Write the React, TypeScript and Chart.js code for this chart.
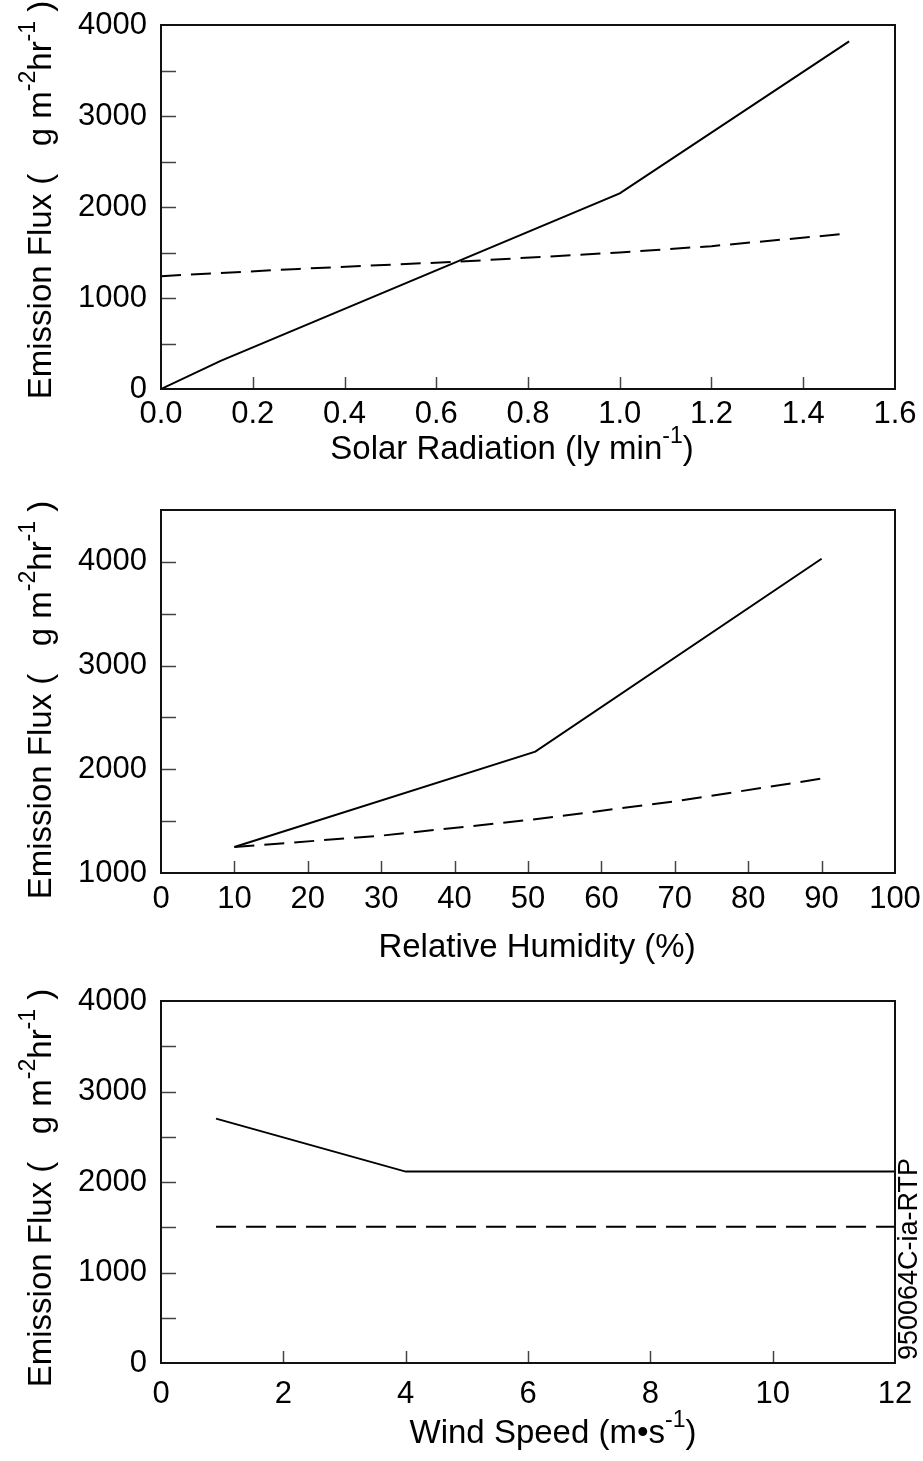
import React, { useEffect, useRef } from "react";
import { Chart, registerables } from "chart.js";
Chart.register(...registerables);

const FONT = '"Liberation Sans", Arial, Helvetica, sans-serif';

// ---------- Data ----------
// Panel 1: Solar radiation
const solarSolidX = [0, 0.13, 1.0, 1.5];
const solarSolidY = [0, 310, 2150, 3820];
const solarDashX = [0, 0.3, 0.65, 1.0, 1.2, 1.48];
const solarDashY = [1240, 1320, 1400, 1500, 1570, 1700];

// Panel 2: Relative humidity
const humSolidX = [10, 51, 90];
const humSolidY = [1250, 2170, 4030];
const humDashX = [10, 30, 50, 70, 90];
const humDashY = [1250, 1360, 1510, 1690, 1910];

// Panel 3: Wind speed
const windSolidX = [0.9, 4, 12];
const windSolidY = [2700, 2115, 2115];
const windDashX = [0.9, 12];
const windDashY = [1505, 1505];

type Seg = { t: string; sup?: boolean };

const yTitle: Seg[] = [
  { t: "Emission Flux (   g m" },
  { t: "-2", sup: true },
  { t: "hr" },
  { t: "-1", sup: true },
  { t: " )" },
];
const solarTitle: Seg[] = [{ t: "Solar Radiation (ly min" }, { t: "-1", sup: true }, { t: ")" }];
const humTitle: Seg[] = [{ t: "Relative Humidity (%)" }];
const windTitle: Seg[] = [{ t: "Wind Speed (m\u2022s" }, { t: "-1", sup: true }, { t: ")" }];
const figureId = "950064C-ia-RTP";

const MAIN_FONT = `33px ${FONT}`;
const SUP_FONT = `23px ${FONT}`;
const SUP_RAISE = 16;

function richWidth(ctx: CanvasRenderingContext2D, segs: Seg[]) {
  let w = 0;
  for (const s of segs) {
    ctx.font = s.sup ? SUP_FONT : MAIN_FONT;
    w += ctx.measureText(s.t).width;
  }
  return w;
}
function drawRich(ctx: CanvasRenderingContext2D, segs: Seg[], cx: number, baseY: number) {
  let x = cx - richWidth(ctx, segs) / 2;
  ctx.textAlign = "left";
  ctx.textBaseline = "alphabetic";
  for (const s of segs) {
    ctx.font = s.sup ? SUP_FONT : MAIN_FONT;
    ctx.fillText(s.t, x, s.sup ? baseY - SUP_RAISE : baseY);
    x += ctx.measureText(s.t).width;
  }
}

type PanelCfg = {
  top: number;
  height: number;
  padTop: number;
  xAxisH: number;
  xMin: number;
  xMax: number;
  xStep: number;
  xDecimals: number;
  yMin: number;
  yMax: number;
  xLabelPad: number;
  solid: [number[], number[]];
  dash: [number[], number[]];
  xTitle: Seg[];
  xTitleCx: number;
  xTitleBase: number;
  yTitleCy: number;
  sideNote?: boolean;
};

const panels: PanelCfg[] = [
  {
    top: 0, height: 485, padTop: 25, xAxisH: 96,
    xMin: 0, xMax: 1.6, xStep: 0.2, xDecimals: 1, yMin: 0, yMax: 4000, xLabelPad: 7,
    solid: [solarSolidX, solarSolidY], dash: [solarDashX, solarDashY],
    xTitle: solarTitle, xTitleCx: 512, xTitleBase: 459, yTitleCy: 200,
  },
  {
    top: 485, height: 490, padTop: 25, xAxisH: 102,
    xMin: 0, xMax: 100, xStep: 10, xDecimals: 0, yMin: 1000, yMax: 4500, xLabelPad: 8,
    solid: [humSolidX, humSolidY], dash: [humDashX, humDashY],
    xTitle: humTitle, xTitleCx: 537, xTitleBase: 472, yTitleCy: 215,
  },
  {
    top: 975, height: 486, padTop: 26, xAxisH: 98,
    xMin: 0, xMax: 12, xStep: 2, xDecimals: 0, yMin: 0, yMax: 4000, xLabelPad: 13,
    solid: [windSolidX, windSolidY], dash: [windDashX, windDashY],
    xTitle: windTitle, xTitleCx: 553, xTitleBase: 468, yTitleCy: 213, sideNote: true,
  },
];

function zeroPad(s: any) {
  s.paddingTop = 0;
  s.paddingBottom = 0;
  s.paddingLeft = 0;
  s.paddingRight = 0;
}

function Panel({ cfg }: { cfg: PanelCfg }) {
  const ref = useRef<HTMLCanvasElement>(null);
  useEffect(() => {
    if (!ref.current) return;
    const decor = {
      id: "decor",
      afterDraw(chart: any) {
        const ctx: CanvasRenderingContext2D = chart.ctx;
        const a = chart.chartArea;
        const xs = chart.scales.x;
        const ys = chart.scales.y;
        ctx.save();
        // inward ticks
        ctx.strokeStyle = "#444";
        ctx.lineWidth = 1.5;
        for (const t of xs.ticks) {
          if (t.value <= cfg.xMin + 1e-9 || t.value >= cfg.xMax - 1e-9) continue;
          const px = Math.round(xs.getPixelForValue(t.value)) + 0.5;
          ctx.beginPath();
          ctx.moveTo(px, a.bottom);
          ctx.lineTo(px, a.bottom - 12);
          ctx.stroke();
        }
        for (const t of ys.ticks) {
          if (t.value <= cfg.yMin + 1e-9 || t.value >= cfg.yMax - 1e-9) continue;
          const py = Math.round(ys.getPixelForValue(t.value)) + 0.5;
          ctx.beginPath();
          ctx.moveTo(a.left, py);
          ctx.lineTo(a.left + 15, py);
          ctx.stroke();
        }
        // frame
        ctx.strokeStyle = "#111";
        ctx.lineWidth = 2;
        ctx.strokeRect(a.left, a.top, a.right - a.left, a.bottom - a.top);
        // titles
        ctx.fillStyle = "#000";
        drawRich(ctx, cfg.xTitle, cfg.xTitleCx, cfg.xTitleBase);
        ctx.save();
        ctx.translate(51, cfg.yTitleCy);
        ctx.rotate(-Math.PI / 2);
        drawRich(ctx, yTitle, 0, 0);
        ctx.restore();
        if (cfg.sideNote) {
          ctx.save();
          ctx.translate(917, 385);
          ctx.rotate(-Math.PI / 2);
          ctx.font = `27px ${FONT}`;
          ctx.textAlign = "left";
          ctx.textBaseline = "alphabetic";
          ctx.fillText(figureId, 0, 0);
          ctx.restore();
        }
        ctx.restore();
      },
    };
    const mk = (xv: number[], yv: number[]) => xv.map((x, i) => ({ x, y: yv[i] }));
    const chart = new Chart(ref.current, {
      type: "line",
      data: {
        datasets: [
          {
            data: mk(cfg.solid[0], cfg.solid[1]),
            borderColor: "#000",
            borderWidth: 2,
            pointRadius: 0,
            tension: 0,
          },
          {
            data: mk(cfg.dash[0], cfg.dash[1]),
            borderColor: "#000",
            borderWidth: 2,
            borderDash: [20, 10],
            pointRadius: 0,
            tension: 0,
          },
        ],
      },
      options: {
        animation: false,
        responsive: false,
        devicePixelRatio: 1,
        layout: { autoPadding: false, padding: { top: cfg.padTop, right: 28, left: 0, bottom: 0 } },
        plugins: { legend: { display: false }, tooltip: { enabled: false } },
        scales: {
          x: {
            type: "linear",
            min: cfg.xMin,
            max: cfg.xMax,
            grid: { display: false, drawTicks: false },
            border: { display: false },
            ticks: {
              stepSize: cfg.xStep,
              padding: cfg.xLabelPad,
              color: "#000",
              font: { family: FONT, size: 31 },
              maxRotation: 0,
              autoSkip: false,
              callback: (v: any) => Number(v).toFixed(cfg.xDecimals),
            },
            afterFit: (s: any) => {
              s.height = cfg.xAxisH;
              zeroPad(s);
            },
          },
          y: {
            type: "linear",
            min: cfg.yMin,
            max: cfg.yMax,
            grid: { display: false, drawTicks: false },
            border: { display: false },
            ticks: {
              stepSize: 500,
              padding: 14,
              color: "#000",
              font: { family: FONT, size: 31 },
              autoSkip: false,
              callback: (v: any) => (Math.round(Number(v)) % 1000 === 0 ? String(Math.round(Number(v))) : ""),
            },
            afterFit: (s: any) => {
              s.width = 161;
              zeroPad(s);
            },
          },
        },
      },
      plugins: [decor],
    } as any);
    return () => chart.destroy();
  }, [cfg]);
  return (
    <canvas
      ref={ref}
      width={923}
      height={cfg.height}
      style={{ position: "absolute", left: 0, top: cfg.top, display: "block", width: 923, height: cfg.height }}
    />
  );
}

export default function App() {
  return (
    <div style={{ position: "absolute", left: 0, top: 0, width: 923, height: 1461, background: "#fff", overflow: "hidden" }}>
      {panels.map((p, i) => (
        <Panel key={i} cfg={p} />
      ))}
    </div>
  );
}
